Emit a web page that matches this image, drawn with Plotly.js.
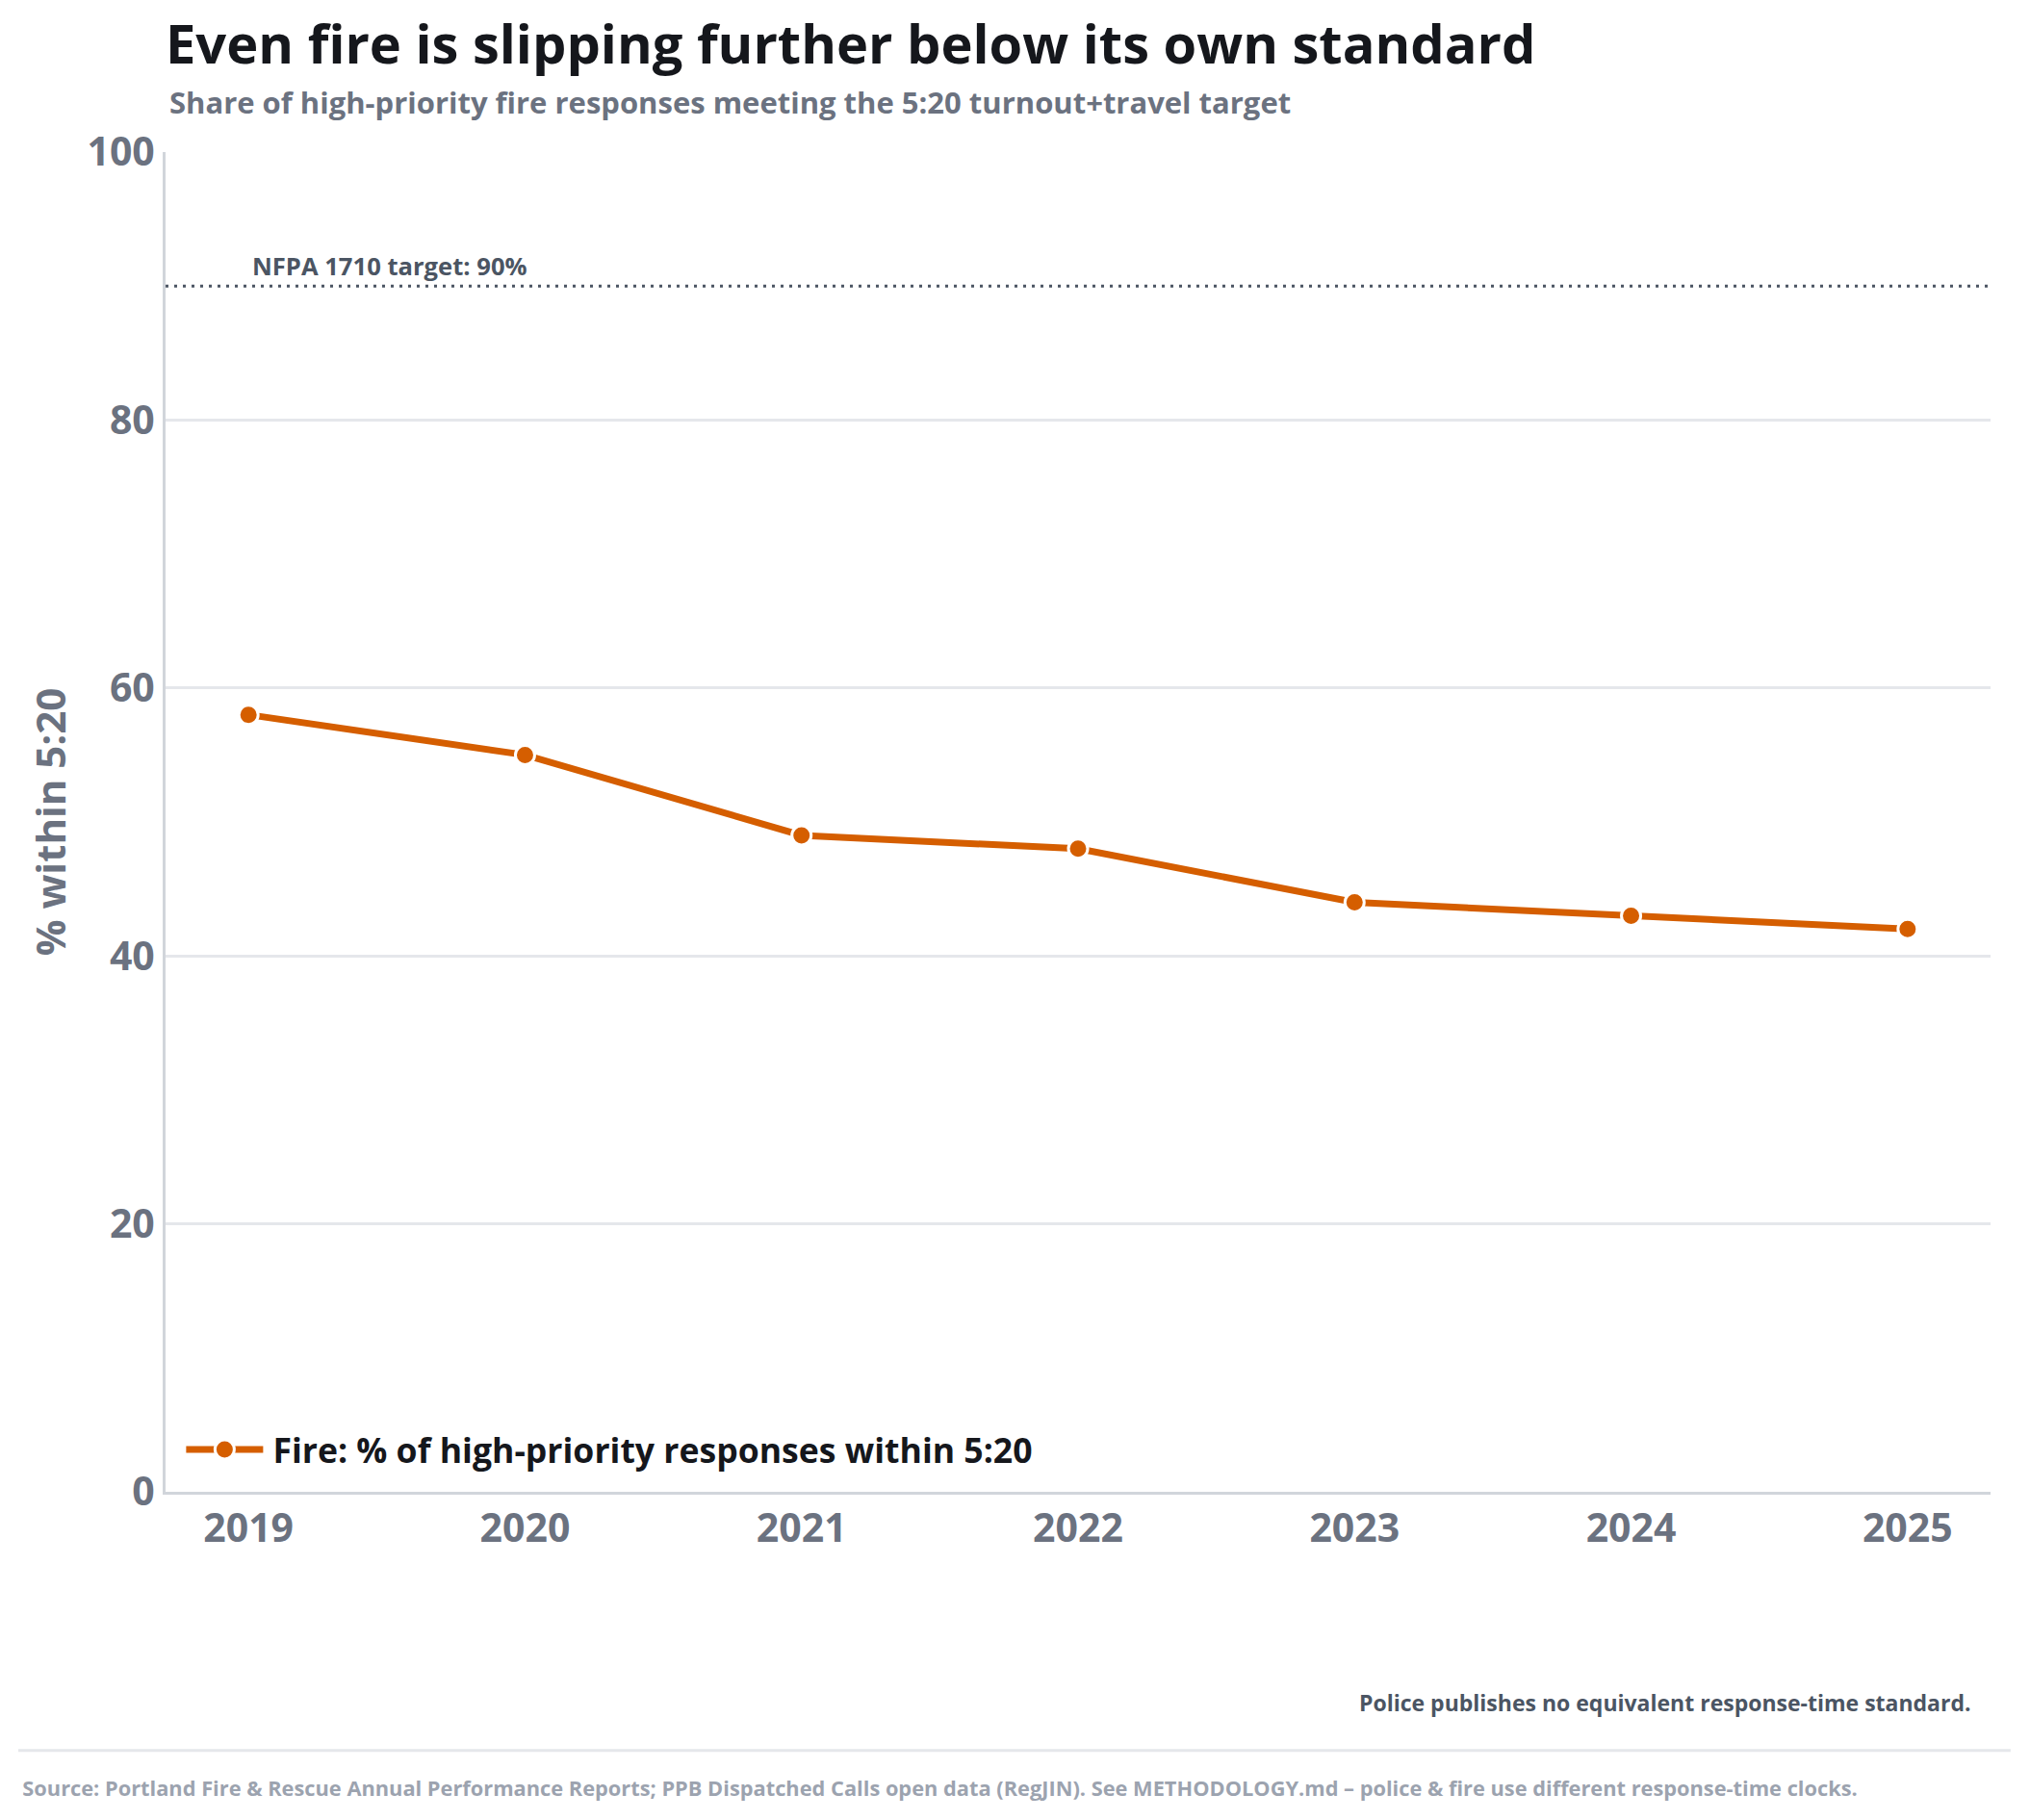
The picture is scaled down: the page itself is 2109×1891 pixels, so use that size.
<!DOCTYPE html>
<html>
<head>
<meta charset="utf-8">
<script src="https://cdn.plot.ly/plotly-3.0.1.min.js"></script>
<style>
  html { margin: 0; padding: 0; background: #ffffff; overflow: hidden; }
  body { margin: 0; padding: 0; background: #ffffff; width: 2109px; height: 1891px; }
  #chart { width: 1055px; height: 946px; transform: scale(2); transform-origin: 0 0; }
</style>
</head>
<body>
<div id="chart"></div>
<script>
// ---- data ----
const years = [2019, 2020, 2021, 2022, 2023, 2024, 2025];
const yearLabels = ["2019", "2020", "2021", "2022", "2023", "2024", "2025"];
const fireShare = [58, 55, 49, 48, 44, 43, 42];
const targetValue = 90;
const yTicks = [0, 20, 40, 60, 80, 100];

const seriesName = "Fire: % of high-priority responses within 5:20";
const titleText = "Even fire is slipping further below its own standard";
const subtitleText = "Share of high-priority fire responses meeting the 5:20 turnout+travel target";
const targetLabel = "NFPA 1710 target: 90%";
const noteText = "Police publishes no equivalent response-time standard.";
const sourceText = "Source: Portland Fire &amp; Rescue Annual Performance Reports; PPB Dispatched Calls open data (RegJIN). See METHODOLOGY.md \u2013 police &amp; fire use different response-time clocks.";

const FONT = "'Open Sans', Lato, 'DejaVu Sans', sans-serif";
const ORANGE = "#d55e00";
const SLATE = "#6b7280";
const DARK = "#15171c";

const trace = {
  x: years,
  y: fireShare,
  type: "scatter",
  mode: "lines+markers",
  name: seriesName,
  line: { color: ORANGE, width: 3.5 },
  marker: { color: ORANGE, size: 10, line: { color: "#ffffff", width: 1.5 } },
  hoverinfo: "x+y"
};

const layout = {
  width: 1055,
  height: 946,
  paper_bgcolor: "#ffffff",
  plot_bgcolor: "#ffffff",
  font: { family: FONT, color: SLATE, weight: 700 },
  margin: { l: 86, r: 20.5, t: 78.5, b: 171 },
  title: {
    text: titleText,
    font: { family: FONT, size: 28, color: DARK, weight: 700 },
    xref: "container", x: 86 / 1055, xanchor: "left",
    yref: "container", y: 1 - 23 / 946, yanchor: "middle"
  },
  xaxis: {
    range: [2018.7, 2025.3],
    tickmode: "array",
    tickvals: years,
    ticktext: yearLabels,
    tickfont: { family: FONT, size: 20.5, color: SLATE, weight: 700 },
    showgrid: false,
    zeroline: false,
    showline: true,
    linecolor: "#d1d5db",
    linewidth: 1.5,
    ticks: "",
    fixedrange: true
  },
  yaxis: {
    range: [0, 100],
    tickmode: "array",
    tickvals: yTicks,
    tickfont: { family: FONT, size: 20.5, color: SLATE, weight: 700 },
    showgrid: true,
    gridcolor: "#e5e7eb",
    gridwidth: 1.3,
    zeroline: false,
    showline: true,
    linecolor: "#d1d5db",
    linewidth: 1.5,
    ticks: "",
    title: {
      text: "% within 5:20",
      font: { family: FONT, size: 21, color: SLATE, weight: 700 },
      standoff: 4.5
    },
    automargin: false,
    fixedrange: true
  },
  showlegend: true,
  legend: {
    x: 0.006, xanchor: "left",
    y: 0.031, yanchor: "middle",
    bgcolor: "rgba(255,255,255,0)",
    borderwidth: 0,
    itemwidth: 40,
    font: { family: FONT, size: 17.8, color: DARK, weight: 700 }
  },
  shapes: [
    {
      type: "line", xref: "paper", yref: "y",
      x0: 0, x1: 1, y0: targetValue, y1: targetValue,
      line: { color: "#4b5563", width: 1.5, dash: "1.5px,3px" }
    },
    {
      type: "line", xref: "paper", yref: "paper",
      x0: -0.0807, x1: 1.011, y0: -0.1931, y1: -0.1931,
      line: { color: "#e5e7eb", width: 1.5 }
    }
  ],
  annotations: [
    {
      text: subtitleText, showarrow: false,
      xref: "paper", x: 0, xanchor: "left",
      yref: "paper", y: (775 - 52.5) / 696.5, yanchor: "middle",
      font: { family: FONT, size: 15.5, color: SLATE, weight: 700 }
    },
    {
      text: targetLabel, showarrow: false,
      xref: "x", x: years[0], xanchor: "left",
      yref: "y", y: targetValue, yanchor: "middle", yshift: 11,
      font: { family: FONT, size: 12.8, color: "#4b5563", weight: 700 }
    },
    {
      text: noteText, showarrow: false,
      xref: "paper", x: (1026 - 86) / 948.5, xanchor: "right",
      yref: "paper", y: (775 - 884.5) / 696.5, yanchor: "middle",
      font: { family: FONT, size: 11.5, color: "#4b5563", weight: 700 }
    },
    {
      text: sourceText, showarrow: false,
      xref: "paper", x: (10 - 86) / 948.5, xanchor: "left",
      yref: "paper", y: (775 - 928.5) / 696.5, yanchor: "middle",
      font: { family: FONT, size: 10.9, color: "#9ca3af", weight: 700 }
    }
  ]
};

Plotly.newPlot("chart", [trace], layout, { displayModeBar: false, staticPlot: true });
</script>
</body>
</html>
